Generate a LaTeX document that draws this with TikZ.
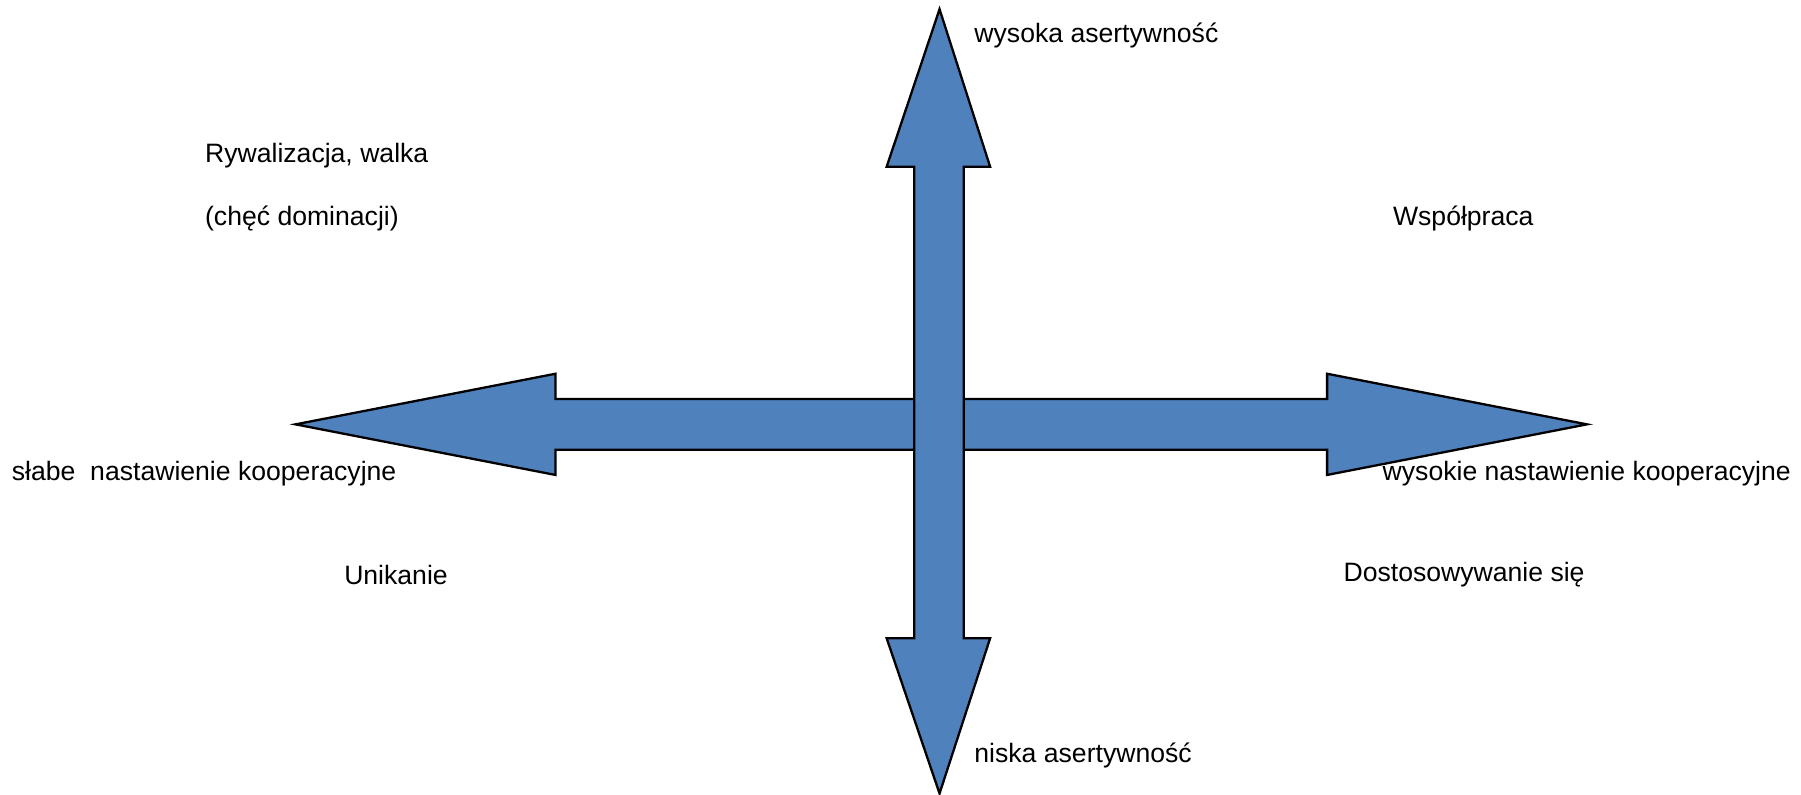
\documentclass[tikz,border=0pt]{standalone}
\usepackage{fontspec}
\setmainfont{Liberation Sans}
\definecolor{arrowblue}{HTML}{4F81BD}
\tikzset{
  bigarrow/.style={draw=black, line width=1.15pt, fill=arrowblue, line join=miter},
  lbl/.style={anchor=west, inner sep=0pt, font=\fontsize{13.3pt}{16pt}\selectfont}
}
\begin{document}
\begin{tikzpicture}[x=0.575pt, y=-0.575pt]
\useasboundingbox (0,0) rectangle (1566.1,691.3);
% horizontal double arrow
\draw[bigarrow] (257,369) -- (483,325) -- (483,347) -- (1154,347) -- (1154,325)
  -- (1380,369) -- (1154,413) -- (1154,391) -- (483,391) -- (483,413) -- cycle;
% vertical double arrow
\draw[bigarrow] (817,8) -- (861,145) -- (838,145) -- (838,555) -- (861,555)
  -- (817,690) -- (771,555) -- (795,555) -- (795,145) -- (771,145) -- cycle;
% labels
\node[lbl] (ha) at (847,31) {wysoka asertywność};
\node[lbl] (la) at (847,657) {niska asertywność};
\node[lbl] (riv) at (178,135) {Rywalizacja, walka};
\node[lbl] (dom) at (178,190) {(chęć dominacji)};
\node[lbl] (wsp) at (1211,190) {Współpraca};
\node[lbl] (lc) at (10,412) {słabe\ \ nastawienie kooperacyjne};
\node[lbl] (hc) at (1202,412) {wysokie nastawienie kooperacyjne};
\node[lbl] (uni) at (299,500) {Unikanie};
\node[lbl] (dos) at (1168,500) {Dostosowywanie się};
\end{tikzpicture}
\end{document}
